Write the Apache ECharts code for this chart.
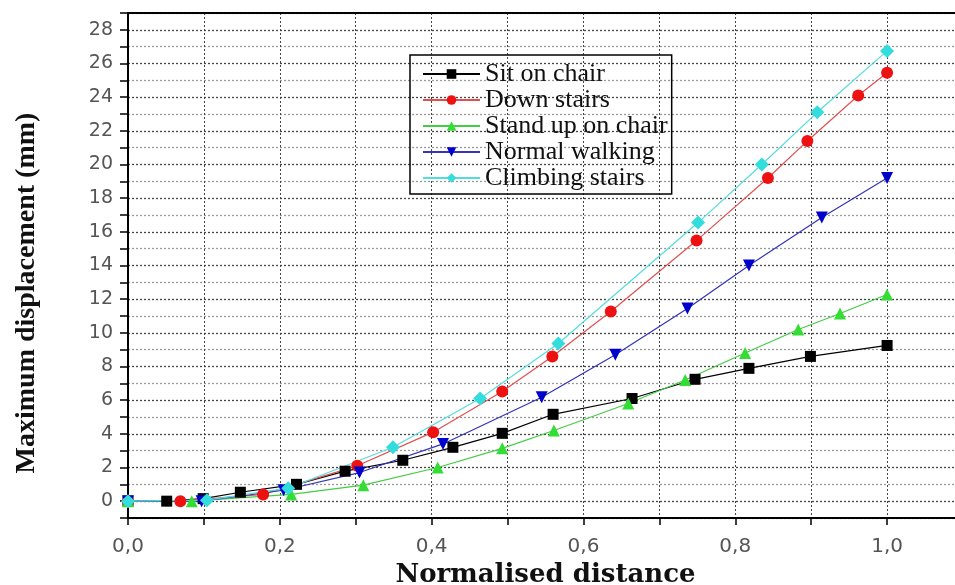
<!DOCTYPE html>
<html><head><meta charset="utf-8">
<script src="https://cdn.jsdelivr.net/npm/echarts@6/dist/echarts.min.js"></script>
<style>html,body{margin:0;padding:0;background:#fff}#c{width:955px;height:585px}</style>
</head><body><div id="c"></div>
<script>
const seriesNames = ['Sit on chair','Down stairs','Stand up on chair','Normal walking','Climbing stairs'];
const sitX = [0,0.051,0.099,0.148,0.222,0.286,0.362,0.428,0.493,0.560,0.664,0.747,0.818,0.899,1.0];
const sitY = [0,0,0.15,0.53,1.0,1.78,2.43,3.2,4.03,5.16,6.1,7.24,7.89,8.6,9.25];
const downX = [0,0.069,0.178,0.302,0.402,0.493,0.559,0.636,0.749,0.843,0.895,0.962,1.0];
const downY = [0,0,0.4,2.1,4.1,6.52,8.6,11.27,15.48,19.2,21.4,24.1,25.45];
const standX = [0,0.084,0.215,0.31,0.408,0.493,0.561,0.659,0.734,0.813,0.883,0.938,1.0];
const standY = [0,0,0.4,0.95,2.0,3.14,4.2,5.8,7.2,8.8,10.2,11.15,12.28];
const walkX = [0,0.097,0.205,0.305,0.415,0.545,0.642,0.737,0.818,0.914,1.0];
const walkY = [0,0,0.65,1.7,3.4,6.17,8.7,11.44,14.0,16.85,19.2];
const climbX = [0,0.104,0.211,0.349,0.464,0.567,0.751,0.835,0.908,1.0];
const climbY = [0,0.06,0.77,3.2,6.1,9.37,16.55,20.0,23.1,26.75];
const yTitle = 'Maximum displacement (mm)';
const xTitle = 'Normalised distance';

const pairs = (xs, ys) => xs.map((x, i) => [x, ys[i]]);
const chart = echarts.init(document.getElementById('c'));
const mk = (name, xs, ys, color, lineColor, symbol, size, rot) => ({
  name, type: 'line', data: pairs(xs, ys), symbol, symbolSize: size, symbolRotate: rot || 0,
  itemStyle: { color }, lineStyle: { color: lineColor, width: 1.2 }, animation: false
});
const fmtX = v => {
  const k = Math.round(v * 10);
  if (k % 2 !== 0 || k > 10) return '';
  return (k / 10).toFixed(1).replace('.', ',');
};
chart.setOption({
  backgroundColor: '#fff',
  grid: { left: 128, top: 13, right: -8, bottom: 67, containLabel: false, outerBoundsMode: 'none' },
  graphic: [{
    type: 'text', x: 27, y: 293, rotation: Math.PI / 2, silent: true,
    style: { text: yTitle, textAlign: 'center', textVerticalAlign: 'middle',
      font: 'bold 28px "Liberation Serif"', fill: '#111' }
  }],
  legend: {
    orient: 'vertical', left: 410, top: 55, itemWidth: 57, itemHeight: 12, itemGap: 0,
    borderColor: '#000', borderWidth: 1.5, padding: [6, 4, 3, 12],
    textStyle: { fontFamily: 'Liberation Serif', fontSize: 26, lineHeight: 22.5, color: '#111' },
    data: seriesNames
  },
  xAxis: [{
    type: 'value', min: 0, max: 1.1, interval: 0.1,
    axisLine: { onZero: false, lineStyle: { color: '#000', width: 2 } },
    axisTick: { show: true, length: 7, lineStyle: { color: '#000', width: 1.5 } },
    axisLabel: { formatter: fmtX, showMaxLabel: false, fontFamily: 'DejaVu Sans', fontSize: 20, color: '#555', margin: 19 },
    splitLine: { show: true, lineStyle: { color: '#444', type: [2, 2], width: 1 } },
    name: xTitle, nameLocation: 'middle', nameGap: 42,
    nameTextStyle: { fontFamily: 'DejaVu Serif', fontWeight: 'bold', fontSize: 26, color: '#111' }
  }, {
    type: 'value', position: 'top', min: 0, max: 1.1, interval: 0.1,
    axisLine: { show: true, onZero: false, lineStyle: { color: '#000', width: 2 } },
    axisTick: { show: false }, axisLabel: { show: false }, splitLine: { show: false }
  }],
  yAxis: {
    type: 'value', min: -1, max: 29, interval: 1,
    axisLine: { show: true, onZero: false, lineStyle: { color: '#000', width: 2 } },
    axisTick: { show: true, length: 8, lineStyle: { color: '#000', width: 1.5 } },
    axisLabel: {
      formatter: v => (Math.round(v) % 2 === 0 && v >= 0 && v <= 28) ? String(Math.round(v)) : '',
      fontFamily: 'DejaVu Sans', fontSize: 19, color: '#555', margin: 15
    },
    splitLine: { show: true, lineStyle: { color: ['#9a9a9a', '#444'], type: [2, 2], width: 1.3 } }
  },
  series: [
    mk(seriesNames[0], sitX, sitY, '#000000', '#000000', 'rect', 11),
    mk(seriesNames[1], downX, downY, '#ee1111', '#e05050', 'circle', 12),
    mk(seriesNames[2], standX, standY, '#33dd33', '#44cc44', 'triangle', 12),
    mk(seriesNames[3], walkX, walkY, '#0000cc', '#3333bb', 'triangle', 12, 180),
    mk(seriesNames[4], climbX, climbY, '#33dddd', '#55dddd', 'diamond', 14)
  ]
});
</script></body></html>
